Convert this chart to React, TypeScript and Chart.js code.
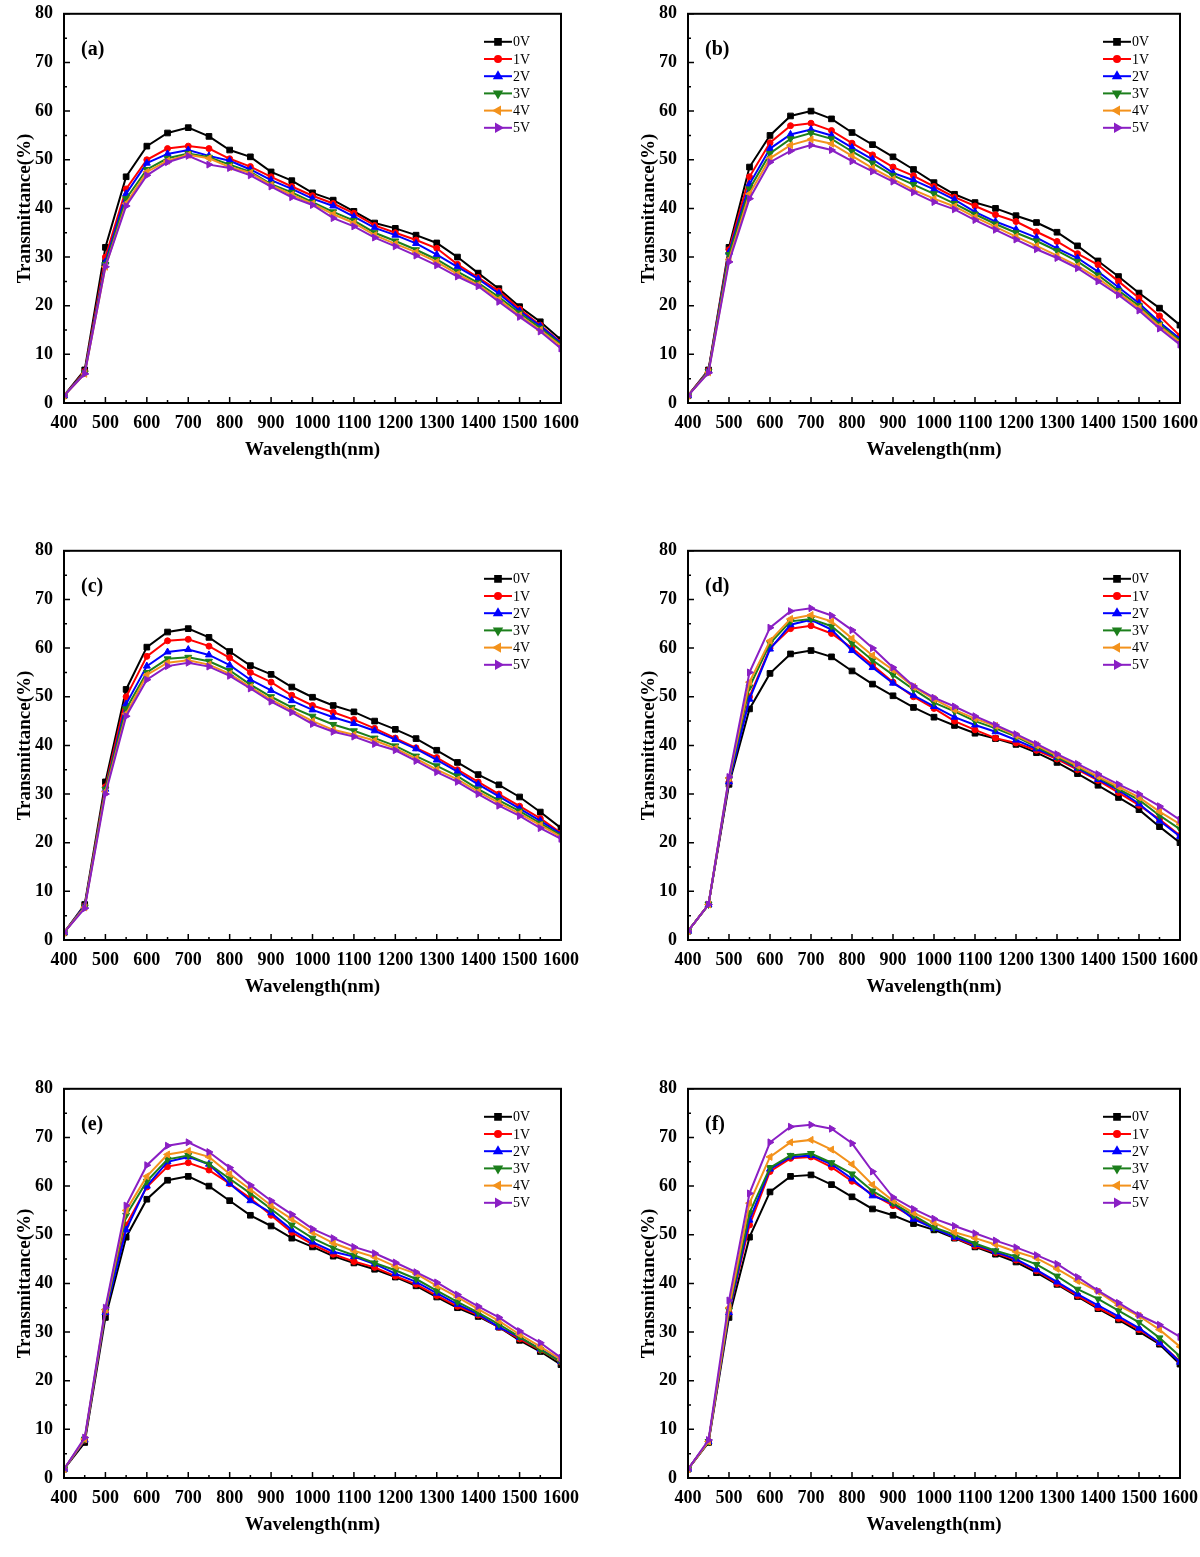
import React, { useEffect, useRef } from "react";
import { Chart, registerables } from "chart.js";
import { drawPoint } from "chart.js/helpers";

Chart.register(...registerables);

// x values (nm)
const wavelengths = [
  400, 450, 500, 550, 600, 650, 700, 750, 800, 850, 900, 950, 1000, 1050, 1100,
  1150, 1200, 1250, 1300, 1350, 1400, 1450, 1500, 1550, 1600,
];

const voltages = ["0V", "1V", "2V", "3V", "4V", "5V"];
const seriesColors = ["#000000", "#ff0000", "#0000ff", "#1c7f1c", "#f3921c", "#8a1fc4"];
const pointStyles = ["rect", "circle", "triangle", "triangle", "triangle", "triangle"];
const pointRotations = [0, 0, 0, 180, 270, 90];
const pointRadii = [4, 3, 4, 4, 4, 4];

const yTicks = [0, 10, 20, 30, 40, 50, 60, 70, 80];
const xTicks = [400, 500, 600, 700, 800, 900, 1000, 1100, 1200, 1300, 1400, 1500, 1600];

// (a)
const a0V = [1.5, 6.8, 32, 46.5, 52.8, 55.5, 56.6, 54.8, 52, 50.6, 47.5, 45.7, 43.2, 41.7, 39.4, 37, 35.9, 34.5, 32.9, 30, 26.7, 23.5, 19.8, 16.7, 13];
const a1V = [1.5, 6.5, 30, 44, 50, 52.3, 52.8, 52.3, 50.2, 48.6, 46.5, 44.5, 42.6, 41, 39, 36.5, 35, 33.5, 31.8, 28.5, 25.8, 23, 19.3, 16, 12.5];
const a2V = [1.5, 6.3, 29, 43, 49.3, 51.2, 52, 50.8, 49.8, 48, 45.8, 44, 42, 40.5, 38.3, 36, 34.5, 32.8, 30.5, 28, 25.5, 22.5, 18.9, 15.8, 12.3];
const a3V = [1.5, 6.2, 28.5, 42, 48, 50.3, 51.3, 50.5, 49, 47.5, 45, 43.3, 41.3, 39.3, 37.5, 35, 33.3, 31.5, 29.5, 27, 24.7, 21.8, 18.5, 15.4, 12];
const a4V = [1.5, 6, 28, 41, 47.5, 49.8, 51, 50.3, 48.5, 47.3, 44.8, 42.8, 41, 38.8, 37, 34.5, 32.7, 31, 29, 26.5, 24.3, 21.3, 18, 15, 11.7];
const a5V = [1.5, 6, 28, 40.5, 46.8, 49.5, 50.8, 49, 48.3, 46.8, 44.5, 42.3, 40.7, 38, 36.3, 34, 32.2, 30.3, 28.3, 26, 24, 20.8, 17.7, 14.7, 11.2];

// (b)
const b0V = [1.5, 6.8, 32, 48.5, 55, 59, 60, 58.4, 55.6, 53.1, 50.6, 48, 45.3, 42.9, 41.2, 40, 38.5, 37.1, 35.1, 32.3, 29.2, 26, 22.6, 19.5, 16];
const b1V = [1.5, 6.7, 31.5, 46.5, 53.5, 57, 57.5, 56, 53.4, 51, 48.5, 46.7, 44.5, 42.3, 40.5, 38.7, 37.3, 35.2, 33.2, 30.7, 28.4, 25, 21.6, 17.9, 13.8];
const b2V = [1.5, 6.6, 31, 45, 52.3, 55.2, 56.2, 55, 52.5, 50.1, 47.3, 45.8, 43.9, 41.8, 39.3, 37.3, 35.7, 34, 31.8, 29.8, 27, 23.8, 20.5, 16.6, 13.2];
const b3V = [1.5, 6.5, 30.5, 44, 51.3, 54.3, 55.5, 54.3, 51.7, 49.3, 46.8, 44.9, 43, 41, 38.8, 36.8, 35, 33.3, 31.3, 29.1, 26.3, 23.1, 20, 16.2, 12.8];
const b4V = [1.5, 6.3, 29.5, 43, 50.3, 53, 54.2, 53.3, 50.8, 48.3, 46, 43.8, 42, 40.4, 38.2, 36.2, 34.2, 32.3, 30.3, 28.2, 25.6, 22.6, 19.5, 15.8, 12.5];
const b5V = [1.5, 6.2, 29, 42, 49.5, 51.8, 53, 52, 49.7, 47.6, 45.5, 43.3, 41.3, 39.8, 37.6, 35.6, 33.6, 31.6, 29.8, 27.7, 25, 22.2, 19, 15.3, 12];

// (c)
const c0V = [1.5, 7.3, 32.5, 51.5, 60.2, 63.3, 64, 62.2, 59.3, 56.4, 54.6, 52, 49.9, 48.2, 46.9, 45, 43.3, 41.4, 39, 36.5, 34, 31.9, 29.4, 26.3, 23];
const c1V = [1.5, 7, 31.5, 50, 58.3, 61.5, 61.8, 60.4, 58, 55, 53, 50.3, 48.2, 46.8, 45.3, 43.5, 41.5, 39.5, 37.5, 35, 32.5, 30, 27.5, 25, 22];
const c2V = [1.5, 7, 31, 48.5, 56.3, 59.2, 59.7, 58.6, 56.5, 53.5, 51.3, 49.2, 47.3, 45.8, 44.5, 43, 41.2, 39.3, 37, 34.6, 32, 29.5, 27, 24.5, 21.8];
const c3V = [1.5, 6.8, 31, 47.5, 55, 57.8, 58.1, 57.3, 55.4, 52.5, 50, 47.8, 46, 44.3, 43, 41.5, 39.9, 37.8, 35.8, 33.7, 31, 28.7, 26.5, 24, 21.5];
const c4V = [1.5, 6.7, 30.5, 46.5, 54.5, 57, 57.5, 56.6, 54.7, 52, 49.4, 47.2, 45, 43.2, 42.2, 41, 39.4, 37.3, 35, 33, 30.5, 28.2, 26, 23.6, 21.2];
const c5V = [1.5, 6.5, 30, 46, 53.5, 56.3, 57, 56.2, 54.3, 51.7, 49, 46.8, 44.4, 42.8, 41.8, 40.3, 39, 36.8, 34.5, 32.5, 30, 27.6, 25.5, 23, 20.8];

// (d)
const d0V = [1.8, 7.3, 32, 47.5, 54.8, 58.8, 59.5, 58.2, 55.3, 52.6, 50.2, 47.8, 45.8, 44.1, 42.5, 41.4, 40.2, 38.5, 36.5, 34.2, 31.8, 29.3, 26.8, 23.3, 20];
const d1V = [1.8, 7.3, 32.5, 50, 60, 64, 64.6, 63, 60, 56.5, 53, 50, 47.6, 45, 43.2, 41.5, 40.5, 39, 37.2, 35, 32.8, 30.3, 27.7, 24.8, 21.5];
const d2V = [1.8, 7.3, 32.5, 49.5, 59.8, 64.8, 65.8, 63.8, 59.5, 56, 52.8, 50.3, 48, 45.8, 44.2, 42.8, 41.1, 39.3, 37.5, 35.3, 33, 30.8, 28, 24.5, 21.3];
const d3V = [1.8, 7.3, 33, 52, 61, 65.5, 66, 64.5, 61, 57.5, 54.5, 51.5, 48.8, 47, 45, 43.5, 41.8, 39.7, 37.6, 35.5, 33.5, 31, 28.8, 25.6, 22.8];
const d4V = [1.8, 7.3, 33.3, 53, 61.5, 66, 66.8, 65.5, 62, 58.5, 55.5, 52, 49.5, 47.3, 45.5, 44, 42, 40, 37.9, 35.8, 33.6, 31.5, 29.3, 26.4, 23.8];
const d5V = [1.8, 7.3, 33.5, 55, 64.2, 67.6, 68.2, 66.7, 63.7, 60, 56, 52.2, 49.8, 48, 46, 44.2, 42.3, 40.3, 38.2, 36.2, 34.1, 32, 30, 27.5, 24.7];

// (e)
const e0V = [1.8, 7.3, 33, 49.5, 57.3, 61.2, 62, 60, 57, 54, 51.8, 49.3, 47.5, 45.6, 44.2, 42.9, 41.3, 39.5, 37.2, 35, 33.2, 31, 28.3, 26, 23.3];
const e1V = [1.8, 7.8, 34, 52, 59.8, 64, 64.8, 63.3, 60.5, 57.5, 54, 50.5, 48, 46, 44.5, 43.3, 41.5, 39.8, 37.5, 35.3, 33.5, 31, 28.6, 26.3, 23.8];
const e2V = [1.8, 7.8, 34, 51, 60, 65, 66, 64.5, 60.5, 57, 54.5, 51, 48.5, 46.5, 45.5, 44, 42, 40.3, 38, 35.7, 33.7, 31, 28.9, 26.5, 24];
const e3V = [1.8, 8, 34.3, 54, 61, 65.5, 66.3, 64.5, 61.5, 58.5, 55.3, 52, 49.3, 47.3, 45.8, 44.2, 42.7, 40.9, 38.5, 36.2, 34, 31.6, 29, 26.4, 23.8];
const e4V = [1.8, 8, 34.6, 55, 62, 66.5, 67.2, 66, 62.5, 59.3, 56, 53.2, 50.5, 48.3, 46.7, 45.4, 43.5, 42, 39.5, 37.2, 34.7, 32.3, 29.5, 27, 24.3];
const e5V = [1.8, 8.3, 35, 56, 64.3, 68.3, 69, 67, 63.8, 60.2, 57, 54.2, 51.2, 49.3, 47.5, 46.2, 44.3, 42.3, 40.2, 37.7, 35.3, 33, 30.2, 27.8, 24.7];

// (f)
const f0V = [1.8, 7.3, 33, 49.5, 58.8, 62, 62.3, 60.3, 57.8, 55.3, 54, 52.3, 51, 49.3, 47.5, 46, 44.4, 42.2, 39.8, 37.3, 34.8, 32.5, 30.1, 27.5, 23.4];
const f1V = [1.8, 7.5, 34, 52, 63, 65.7, 66, 63.9, 61, 58.3, 56, 53.5, 51.5, 49.4, 47.7, 46.3, 44.8, 42.6, 40, 37.5, 35, 32.8, 30.5, 27.8, 24];
const f2V = [1.8, 7.5, 34, 53, 63.5, 66, 66.3, 64.5, 61.5, 58, 56.5, 53.2, 51.3, 49.5, 48, 46.5, 45, 42.8, 40.3, 37.8, 35.5, 33.2, 30.8, 27.8, 23.8];
const f3V = [1.8, 7.5, 34.5, 54.5, 63.8, 66.3, 66.7, 64.8, 62.5, 59, 56.5, 54, 51.5, 50, 48.2, 46.7, 45.5, 43.9, 41.5, 38.8, 36.8, 34.4, 32, 28.8, 25];
const f4V = [1.8, 7.5, 35, 56.5, 66, 69, 69.5, 67.5, 64.5, 60.3, 57, 54.5, 52.5, 50.5, 49.3, 48, 46.5, 45.2, 43, 40.5, 38.3, 35.5, 33.3, 30.5, 27];
const f5V = [1.8, 7.8, 36.5, 58.5, 69, 72.2, 72.6, 71.8, 68.8, 63, 57.7, 55.3, 53.3, 51.8, 50.3, 48.8, 47.4, 45.8, 44, 41.3, 38.5, 36, 33.5, 31.5, 29];

const panelLabels = ["(a)", "(b)", "(c)", "(d)", "(e)", "(f)"];
const panelSeries = [
  [a0V, a1V, a2V, a3V, a4V, a5V],
  [b0V, b1V, b2V, b3V, b4V, b5V],
  [c0V, c1V, c2V, c3V, c4V, c5V],
  [d0V, d1V, d2V, d3V, d4V, d5V],
  [e0V, e1V, e2V, e3V, e4V, e5V],
  [f0V, f1V, f2V, f3V, f4V, f5V],
];

const SERIF = "'Liberation Serif', 'Times New Roman', serif";
const rowTops = [0, 537, 1075];

// inward ticks, full frame, panel label and inset legend
const framePlugin = {
  id: "frame",
  afterDatasetsDraw(chart: any, _args: any, opts: any) {
    const { ctx, chartArea, scales } = chart;
    const { left, right, top, bottom } = chartArea;
    const x = scales.x;
    const y = scales.y;
    ctx.save();
    ctx.strokeStyle = "#000";
    ctx.lineWidth = 1.5;
    ctx.beginPath();
    for (let v = y.min; v <= y.max; v += 5) {
      const py = y.getPixelForValue(v);
      const len = v % 10 === 0 ? 6 : 3;
      ctx.moveTo(left, py);
      ctx.lineTo(left + len, py);
    }
    for (let v = x.min; v <= x.max; v += 50) {
      const px = x.getPixelForValue(v);
      const len = v % 100 === 0 ? 6 : 3;
      ctx.moveTo(px, bottom);
      ctx.lineTo(px, bottom - len);
    }
    ctx.stroke();
    ctx.lineWidth = 2;
    ctx.strokeRect(left, top, right - left, bottom - top);

    // panel label
    ctx.fillStyle = "#000";
    ctx.font = `bold 20px ${SERIF}`;
    ctx.textBaseline = "middle";
    ctx.textAlign = "left";
    ctx.fillText(opts.label, left + 17, top + 36);

    // legend
    ctx.font = `14px ${SERIF}`;
    chart.data.datasets.forEach((ds: any, i: number) => {
      const ly = top + 28 + i * 17.2;
      const lx = right - 77;
      ctx.strokeStyle = ds.borderColor;
      ctx.fillStyle = ds.backgroundColor;
      ctx.lineWidth = 2;
      ctx.beginPath();
      ctx.moveTo(lx, ly);
      ctx.lineTo(lx + 28, ly);
      ctx.stroke();
      drawPoint(ctx, {
        pointStyle: ds.pointStyle,
        rotation: ds.pointRotation,
        radius: ds.pointRadius,
        borderWidth: 1,
      }, lx + 14, ly);
      ctx.fillStyle = "#000";
      ctx.fillText(ds.label, lx + 29, ly + 1);
    });
    ctx.restore();
  },
};

type PanelProps = { index: number };

const Panel: React.FC<PanelProps> = ({ index }) => {
  const canvasRef = useRef<HTMLCanvasElement | null>(null);
  const chartRef = useRef<Chart | null>(null);
  const col = index % 2;
  const row = Math.floor(index / 2);

  useEffect(() => {
    const ctx = canvasRef.current?.getContext("2d");
    if (!ctx) return;
    if (chartRef.current) chartRef.current.destroy();

    const series = panelSeries[index];
    const datasets = voltages.map((v, i) => ({
      label: v,
      data: wavelengths.map((w, k) => ({ x: w, y: series[i][k] })),
      borderColor: seriesColors[i],
      backgroundColor: seriesColors[i],
      borderWidth: 2,
      pointStyle: pointStyles[i],
      pointRotation: pointRotations[i],
      pointRadius: pointRadii[i],
      pointBorderWidth: 1,
      tension: 0,
      order: 5 - i,
    }));

    const tickFont = { family: SERIF, size: 18, weight: "bold" as const };
    const titleFont = { family: SERIF, size: 19, weight: "bold" as const };

    chartRef.current = new Chart(ctx, {
      type: "line",
      data: { datasets: datasets as any },
      options: {
        animation: false,
        responsive: false,
        layout: {
          padding: { left: col === 0 ? 0 : 24, right: col === 0 ? 39 : 18, top: 13, bottom: 7 },
        },
        plugins: {
          legend: { display: false },
          tooltip: { enabled: false },
          frame: { label: panelLabels[index] },
        } as any,
        scales: {
          x: {
            type: "linear",
            min: wavelengths[0],
            max: wavelengths[wavelengths.length - 1],
            grid: { display: false },
            border: { display: false },
            afterBuildTicks: (s: any) => {
              s.ticks = xTicks.map((value) => ({ value }));
            },
            ticks: {
              color: "#000",
              font: tickFont,
              padding: 2,
              maxRotation: 0,
              autoSkip: false,
              callback: (v: any) => String(v),
            },
            title: {
              display: true,
              text: "Wavelength(nm)",
              color: "#000",
              font: titleFont,
              padding: { top: 0, bottom: 2 },
            },
            afterFit: (s: any) => {
              s.height = 60;
            },
          },
          y: {
            min: 0,
            max: 80,
            grid: { display: false },
            border: { display: false },
            afterBuildTicks: (s: any) => {
              s.ticks = yTicks.map((value) => ({ value }));
            },
            ticks: { color: "#000", font: tickFont, padding: 3, callback: (v: any) => String(v) },
            title: {
              display: true,
              text: "Transmittance(%)",
              color: "#000",
              font: titleFont,
              padding: { top: 14, bottom: 0 },
            },
            afterFit: (s: any) => {
              s.width = 64;
            },
          },
        },
      },
      plugins: [framePlugin],
    });

    return () => {
      if (chartRef.current) {
        chartRef.current.destroy();
        chartRef.current = null;
      }
    };
  }, [index, col]);

  return (
    <canvas
      ref={canvasRef}
      width={600}
      height={470}
      style={{ position: "absolute", left: col * 600, top: rowTops[row], width: 600, height: 470 }}
    />
  );
};

const App: React.FC = () => {
  return (
    <div
      style={{
        position: "absolute",
        left: 0,
        top: 0,
        width: 1200,
        height: 1557,
        background: "#fff",
        overflow: "hidden",
      }}
    >
      {panelLabels.map((_, i) => (
        <Panel key={i} index={i} />
      ))}
    </div>
  );
};

export default App;
